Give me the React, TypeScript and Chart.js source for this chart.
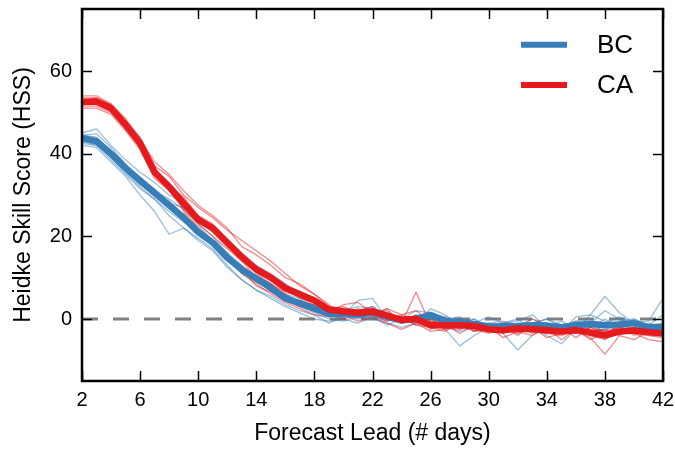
import React, { useEffect, useRef } from 'react';
import { Chart, registerables } from 'chart.js';

Chart.register(...registerables);

const days = [2,3,4,5,6,7,8,9,10,11,12,13,14,15,16,17,18,19,20,21,22,23,24,25,26,27,28,29,30,31,32,33,34,35,36,37,38,39,40,41,42];
const xTicks = [2, 6, 10, 14, 18, 22, 26, 30, 34, 38, 42];
const yTicks = [0, 20, 40, 60];
const seriesNames = ['BC', 'CA'];
const xTitle = 'Forecast Lead (# days)';
const yTitle = 'Heidke Skill Score (HSS)';

const bcMean = [43.8,43,40,36.5,33.5,30.5,27.5,24.5,21,18.5, 14.8,12,9.8,7.5,5,3.8,2.5,1.2,1.2,1, 1.5,0.5,-0.3,0,1,-0.5,-0.8,-1.2,-1.8,-1.8, -1.7,-1.5,-1.6,-2,-1.5,-1.2,-1.5,-1.3,-1,-2, -2];
const caMean = [52.5,52.6,51,47,42.5,35.5,32,28,24,22, 18.5,15,12,10,7.5,6,4.5,2.3,1.8,1.5, 1.8,0.8,-0.2,0,-1.5,-1.5,-1.5,-1.7,-2.5,-2.7, -2.3,-2.5,-2.7,-3,-2.7,-3.3,-4,-3,-2.8,-3.2, -3.5];

const bcMembers = [
  [44.5,44.8,41.5,37.5,34,31.5,28,27,24,21.5, 18,15,12.5,10.5,8,6,4.5,2.5,2,3, 2.5,1.5,0,2,1.5,0.5,-0.5,-1,0.5,-1, 0,-2.5,-1,-3,0.5,1,-0.5,-2,0,-1.5, 1],
  [43,42.5,39,35.5,32,29,26,23.5,21,18, 14.5,11,9,7,5,3,1.5,0,-0.5,0.5, 0,-1,-2,-1,0,-2,-3,-2,-1.5,-3.5, -7.5,-4,-2,-3,-1.5,-3,-2.5,-1,-2.5,-3, -3.5],
  [42.5,42,40.5,37,33,30,27,24,21.5,19, 16,12,9,7.5,6,5,2.5,1,2.5,2, 3,1,0.5,-1,2.5,1,-1.5,0,-2.5,-1, -0.5,1,-2,-0.5,-2.5,1,5.5,1.5,-1,-2.5, -1.5],
  [45,46,42,38.5,35.5,33,30,28,25,22.5, 19,16,13,11,8.5,6,5,2,0.5,1.5, 1,2.5,-1,1,0.5,-1,0,-3,-1,-2, -3.5,-1,0,-1.5,-3,-2,0,-2,-0.5,-3, -2.5],
  [43,42,38.5,35,31.5,29,25,22,19,16.5, 12.5,9.5,7,5,3,1.5,0,-0.5,0,-1, 0.5,-0.5,0.5,-1.5,-0.5,-2.5,-6.5,-4,-2,-2.5, -1,-2,-4,-6,-2.5,-3.5,-1.5,-3,-2,-1, -2],
  [44,43.5,40,36,33.5,30,28.5,25,22.5,19, 15,12,10.5,8.5,5,4.5,3,1.5,1,4.5, 5,0,-1,0.5,0.5,-0.5,-0.5,0,-2,-1, -2,0,-1.5,-2.5,-1,-1,2,0,-1.5,-2, -2.5],
  [42,41.5,38,34.5,30,26,20.5,22,19.5,17, 13,9.5,7,5.5,3.5,2,1,-1,0.5,1.5, 0.5,-1.5,0,-0.5,1,0,-2,-1,-3,-2.5, -1.5,-3,-1,-2,-0.5,-1.5,-3,-0.5,0,-1.5, -1],
  [44.5,44,40.5,36.5,34,31,29,26.5,23,20, 16,13,10,7.5,5.5,4,3.5,1,1.5,2, 2.5,1,-0.5,0,1.5,0,0.5,-1.5,-1,-0.5, -1.5,-1,0,-2,-0.5,-0.5,-1,0.5,-1,-0.5, 5],
  [43.5,43,39.5,36,32.5,30,27,24.5,21,18.5, 15,12.5,9.5,8,6,4,3,1.5,1,0, 1,0.5,0,0.5,0,-1,-1,-2,-1.5,-2, -2,-1.5,-2.5,-1.5,-1,-2,-1,-2,-2,-2.5, -2.5],
];

const caMembers = [
  [53.5,53.5,51.5,48,44,37,34.5,30,27,24.5, 21.5,19,16.5,14,11,8,6,3,2.5,2, 3,0,1,-0.5,-1,0.5,-2.5,-1,-3,-2, -4,-1.5,-3,-2,-4.5,-2,-3.5,-1.5,-4,-2, -3],
  [51.5,51.5,50,46,41.5,36,33,26,21,18, 14.5,11,8.5,6,4,2.5,1,0.5,1,-0.5, 0.5,-1,-2.5,-1,-3,-2.5,-0.5,-3,-2,-4.5, -3,-4,-2,-5,-2.5,-4,-5,-2.5,-3.5,-4, -4.5],
  [54,54,52,48.5,43.5,38,35,31,27.5,25, 22,17.5,15.5,13,10,8.5,6,3.5,1,2.5, 1,2.5,1,2,-0.5,-1,0,-2,-1.5,-1, -2,0,-1.5,-3,-1,-2.5,-3,-2,-1,-2.5, -2],
  [52.5,52,50.5,47.5,43,35,32.5,28.5,24,21, 17.5,14.5,11,8.5,6.5,5.5,3,2.5,2,0.5, 2.5,0.5,-1,6.5,-1.5,-2,-2.5,-1,-3,-3.5, -1.5,-3,-3.5,-1.5,-3,-4.5,-8.5,-4,-2,-3.5, -4],
  [51,51,49.5,45.5,41,34,31,26.5,22,19, 15,12,8,6.5,4.5,3,2,1,0,1, 1,-0.5,0.5,-1.5,-2,-3,-1,-2.5,-3.5,-2.5, -3.5,-2,-4.5,-3.5,-2,-3,-2.5,-4,-5,-3, -3.5],
  [53,53.5,52,47.5,43,36.5,32,29.5,25,23, 18.5,15,12.5,10,7.5,6,4.5,2.5,3,1.5, 2,1.5,0,0.5,-1,-0.5,-2,-1.5,-2,-3, -1.5,-3.5,-2,-2.5,-3.5,-2,-3,-3.5,-2.5,-3, -3],
  [52,52.5,51,46.5,42,35.5,31.5,27.5,23,20, 17,14,10,8.5,6,4,3.5,1.5,3.5,4, 1.5,2,-0.5,1,-2.5,-1,-3.5,-1.5,-3,-2, -3,-2,-3.5,-4,-2.5,-5,-3.5,-2,-3.5,-5, -5.5],
  [52.5,53,51.5,47,42.5,36,32.5,28.5,24.5,21.5, 18,14.5,12,9.5,7.5,5,4,2.5,1.5,2, 2,0.5,-1,-0.5,-1,-2.5,-1.5,-3,-2.5,-3, -2.5,-3,-2.5,-3,-3.5,-3,-4,-3,-2.5,-3.5, -4],
];

const zeroLine = [0, 0];
const zeroDays = [2, 42];

const BLUE = '#377eb8';
const RED = '#e41a1c';
const BLUE_THIN = 'rgba(55,126,184,0.5)';
const RED_THIN = 'rgba(228,26,28,0.5)';
const FONT = '"Liberation Sans", Arial, Helvetica, sans-serif';

const toPts = (xs: number[], ys: number[]) => xs.map((x, i) => ({ x, y: ys[i] }));

const zeroPad = (s: any) => {
  s.paddingTop = 0;
  s.paddingBottom = 0;
  s.paddingLeft = 0;
  s.paddingRight = 0;
};

const framePlugin = {
  id: 'frameAndLegend',
  afterDatasetsDraw(chart: any) {
    const { ctx, chartArea: a, scales } = chart;
    const x = scales.x;
    const y = scales.y;
    ctx.save();
    ctx.strokeStyle = '#000';
    ctx.lineWidth = 1.5;
    ctx.beginPath();
    x.ticks.forEach((t: any) => {
      const px = Math.round(x.getPixelForValue(t.value)) + 0.5;
      ctx.moveTo(px, a.bottom);
      ctx.lineTo(px, a.bottom - 10);
      ctx.moveTo(px, a.top);
      ctx.lineTo(px, a.top + 10);
    });
    y.ticks.forEach((t: any) => {
      const py = Math.round(y.getPixelForValue(t.value)) + 0.5;
      ctx.moveTo(a.left, py);
      ctx.lineTo(a.left + 10, py);
      ctx.moveTo(a.right, py);
      ctx.lineTo(a.right - 10, py);
    });
    ctx.stroke();
    ctx.lineWidth = 2.5;
    ctx.strokeRect(a.left, a.top, a.right - a.left, a.bottom - a.top);

    // legend
    const thick = chart.data.datasets.filter((d: any) => seriesNames.includes(d.label));
    const ordered = seriesNames.map((n) => thick.find((d: any) => d.label === n));
    ordered.forEach((d: any, i: number) => {
      const ly = a.top + 35.7 + i * 40.3;
      ctx.strokeStyle = d.borderColor;
      ctx.lineWidth = 6;
      ctx.lineCap = 'butt';
      ctx.beginPath();
      ctx.moveTo(a.right - 142, ly);
      ctx.lineTo(a.right - 96, ly);
      ctx.stroke();
      ctx.fillStyle = '#000';
      ctx.font = `26px ${FONT}`;
      ctx.textAlign = 'left';
      ctx.textBaseline = 'middle';
      ctx.fillText(d.label, a.right - 66, ly + 1);
    });
    ctx.restore();
  },
};

export default function App() {
  const ref = useRef<HTMLCanvasElement | null>(null);
  useEffect(() => {
    if (!ref.current) return;
    const datasets: any[] = [];
    datasets.push({
      label: seriesNames[1], data: toPts(days, caMean), borderColor: RED, borderWidth: 6.5, order: 0,
    });
    datasets.push({
      label: seriesNames[0], data: toPts(days, bcMean), borderColor: BLUE, borderWidth: 6.5, order: 1,
    });
    caMembers.forEach((m, i) => datasets.push({
      label: `CA member ${i + 1}`, data: toPts(days, m), borderColor: RED_THIN, borderWidth: 1.3, order: 2,
    }));
    bcMembers.forEach((m, i) => datasets.push({
      label: `BC member ${i + 1}`, data: toPts(days, m), borderColor: BLUE_THIN, borderWidth: 1.3, order: 3,
    }));
    datasets.push({
      label: 'zero', data: toPts(zeroDays, zeroLine), borderColor: '#808080', borderWidth: 3,
      borderDash: [16, 15], order: 4,
    });
    datasets.forEach((d) => {
      d.pointRadius = 0;
      d.tension = 0;
      d.fill = false;
      d.borderCapStyle = 'butt';
      d.borderJoinStyle = 'round';
    });

    const chart = new Chart(ref.current, {
      type: 'line',
      data: { datasets },
      plugins: [framePlugin],
      options: {
        responsive: false,
        animation: false,
        devicePixelRatio: 1,
        events: [],
        layout: { padding: { top: 9, right: 12, left: 0, bottom: 0 } },
        plugins: { legend: { display: false }, tooltip: { enabled: false } },
        scales: {
          x: {
            type: 'linear',
            min: 2,
            max: 42,
            grid: { display: false, drawTicks: false },
            border: { display: false },
            afterBuildTicks: (s: any) => { s.ticks = xTicks.map((v) => ({ value: v })); },
            afterFit: (s: any) => { s.height = 70; zeroPad(s); },
            ticks: {
              color: '#000',
              padding: 7,
              maxRotation: 0,
              autoSkip: false,
              font: { family: FONT, size: 20 },
              callback: (v: any) => String(v),
            },
            title: {
              display: true,
              text: xTitle,
              color: '#000',
              font: { family: FONT, size: 23 },
              padding: { top: 0, bottom: 3.5 },
            },
          },
          y: {
            type: 'linear',
            min: -15,
            max: 75,
            grid: { display: false, drawTicks: false },
            border: { display: false },
            afterBuildTicks: (s: any) => { s.ticks = yTicks.map((v) => ({ value: v })); },
            afterFit: (s: any) => { s.width = 82; zeroPad(s); },
            ticks: {
              color: '#000',
              padding: 10,
              autoSkip: false,
              font: { family: FONT, size: 20 },
              callback: (v: any) => String(v),
            },
            title: {
              display: true,
              text: yTitle,
              color: '#000',
              font: { family: FONT, size: 23 },
              padding: { top: 10, bottom: 0 },
            },
          },
        },
      },
    });
    return () => chart.destroy();
  }, []);

  return (
    <div style={{ position: 'fixed', left: 0, top: 0, width: 675, height: 451, background: '#fff' }}>
      <canvas ref={ref} width={675} height={451} />
    </div>
  );
}
